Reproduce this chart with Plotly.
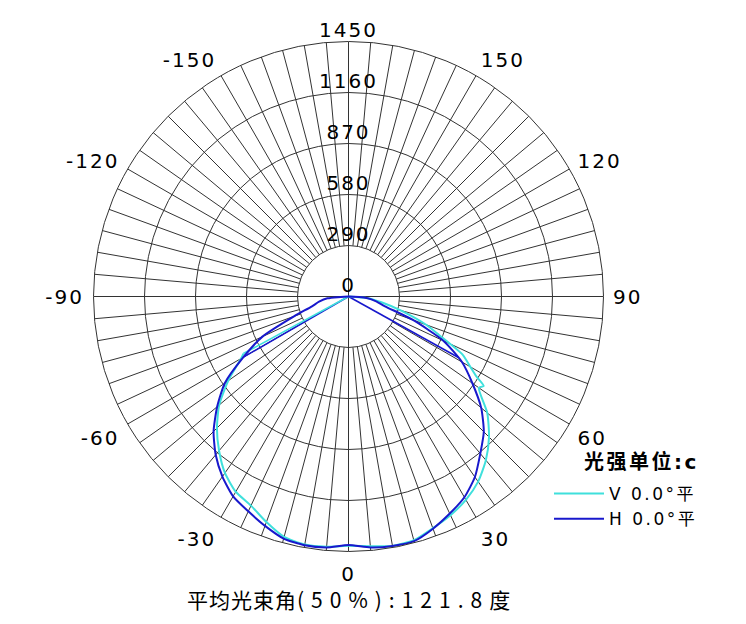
import plotly.graph_objects as go

# ---- data ----
# H plane (blue), smooth curve
H_theta = [-90, -85, -80, -75, -70, -65, -60, -55, -50, -45, -40, -35, -30, -25, -20, -15, -10, -5,
           0, 5, 10, 15, 20, 25, 30, 35, 40, 45, 50, 55, 60, 65, 70, 75, 80, 85, 90]
H_r = [0, 120, 170, 215, 330, 540, 690, 858, 975, 1085, 1175, 1250, 1312, 1348, 1388, 1425, 1436, 1432,
       1413, 1432, 1440, 1440, 1405, 1362, 1318, 1253, 1166, 1088, 985, 860, 745, 595, 390, 215, 160, 110, 0]
# straight rays of the H curve from the centre
H_ray_theta = [-60, 61]
H_ray_r = [690, 715]

# V plane (cyan)
V_theta = [-61.5, -60, -55, -50, -45, -40, -35, -30, -25, -20, -15, -10, -5,
           0, 5, 10, 15, 20, 25, 30, 35, 40, 45, 50, 55, 56.5, 58, 60, 63, 67, 70, 75, 80, 85, 90]
V_r = [680, 705, 835, 960, 1058, 1145, 1225, 1282, 1312, 1365, 1415, 1432, 1428,
       1418, 1425, 1440, 1435, 1402, 1372, 1335, 1285, 1215, 1130, 1030, 905, 922, 858, 800, 728, 559, 470, 310, 190, 110, 0]
V_ray_theta = [-61.5]
V_ray_r = [680]

radial_ticks = [0, 290, 580, 870, 1160, 1450]
radial_labels = ["0", "290", "580", "870", "1160", "1450"]

ang_tickvals = [0, 30, 60, 90, 120, 150, 180, 210, 240, 270, 300, 330]
ang_ticktext = ["0", "30", "60", "90", "120", "150", "", "-150", "-120", "-90", "-60", "-30"]

spoke_step = 5
R_MAX = 1450
R_INNER = 290

names = ["V 0.0°平", "H 0.0°平"]
legend_title = "光强单位:c"
footer = ["平均光束角", "(50%):121.8", "度"]

CYAN = "#3fe0dc"
BLUE = "#1818cc"
GRID = "#333333"
FONT = "DejaVu Sans, Noto Sans CJK SC"
LS = "letter-spacing:2px"

def sp(t, style=LS):
    return f'<span style="{style}">{t}</span>' if t else ""

# grid spokes (from inner circle outwards) and full diameters
sp_t, sp_r = [], []
for a in range(0, 360, spoke_step):
    sp_t += [a, a, None]
    sp_r += [R_INNER, R_MAX, None]
dia_t, dia_r = [], []
for a in [0, 90, 180, 270]:
    dia_t += [a, a, None]
    dia_r += [0, R_MAX, None]

fig = go.Figure()
fig.add_trace(go.Scatterpolar(theta=sp_t, r=sp_r, mode="lines",
                              line=dict(color=GRID, width=1), showlegend=False, hoverinfo="skip"))
fig.add_trace(go.Scatterpolar(theta=dia_t, r=dia_r, mode="lines",
                              line=dict(color=GRID, width=1), showlegend=False, hoverinfo="skip"))

# rays
for th, rr, col in [(H_ray_theta, H_ray_r, BLUE), (V_ray_theta, V_ray_r, CYAN)]:
    t, r = [], []
    for a, v in zip(th, rr):
        t += [a, a, None]
        r += [0, v, None]
    fig.add_trace(go.Scatterpolar(theta=t, r=r, mode="lines",
                                  line=dict(color=col, width=1.6), showlegend=False, hoverinfo="skip"))

fig.add_trace(go.Scatterpolar(theta=V_theta, r=V_r, mode="lines", name=sp(names[0], "letter-spacing:2.5px"),
                              line=dict(color=CYAN, width=2, shape="spline", smoothing=0.6)))
fig.add_trace(go.Scatterpolar(theta=H_theta, r=H_r, mode="lines", name=sp(names[1], "letter-spacing:2.5px"),
                              line=dict(color=BLUE, width=2, shape="spline", smoothing=0.6)))

# radial labels along the 180 direction
fig.add_trace(go.Scatterpolar(theta=[180] * len(radial_ticks), r=radial_ticks, mode="text",
                              text=[sp(t) for t in radial_labels], textposition="top center",
                              textfont=dict(size=20, color="#000", family=FONT),
                              showlegend=False, hoverinfo="skip", cliponaxis=False))

# page body adds an 8 px offset; positions below are screen pixels
OFF = 8
cx, cy, R = 348.5 - OFF, 296.5 - OFF, 255
W, Hh = 746, 624

def px(x):
    return (x - OFF) / W

def py(y):
    return 1 - (y - OFF) / Hh

fig.update_layout(
    width=W, height=Hh,
    margin=dict(l=0, r=0, t=0, b=0),
    paper_bgcolor="white", plot_bgcolor="white",
    font=dict(family=FONT, color="#000"),
    polar=dict(
        domain=dict(x=[(cx - R) / W, (cx + R) / W], y=[(Hh - cy - R) / Hh, (Hh - cy + R) / Hh]),
        bgcolor="white",
        angularaxis=dict(rotation=-90, direction="counterclockwise", tickmode="array",
                         tickvals=ang_tickvals, ticktext=[sp(t) for t in ang_ticktext],
                         showgrid=False, showline=True, linecolor=GRID, linewidth=1,
                         ticks="outside", ticklen=5, tickcolor="rgba(0,0,0,0)",
                         tickfont=dict(size=20, color="#000", family=FONT)),
        radialaxis=dict(range=[0, R_MAX], tickmode="array", tickvals=radial_ticks[1:],
                        showticklabels=False, ticks="", showline=False,
                        gridcolor=GRID, gridwidth=1),
    ),
    legend=dict(x=px(549), y=py(476), xanchor="left", yanchor="top",
                font=dict(size=17, color="#000", family=FONT), bgcolor="rgba(0,0,0,0)",
                itemwidth=50, tracegroupgap=0),
    annotations=[
        dict(x=px(582), y=py(462), xref="paper", yref="paper", xanchor="left", yanchor="middle",
             text="<b>" + sp(legend_title, "letter-spacing:2.5px") + "</b>", showarrow=False,
             font=dict(size=20, color="#000", family=FONT)),
        dict(x=px(348.5), y=py(599), xref="paper", yref="paper", xanchor="center", yanchor="middle",
             text=sp(footer[0], "letter-spacing:1px") + sp(footer[1], "letter-spacing:7px") + footer[2],
             showarrow=False, borderpad=0,
             font=dict(size=21, color="#000", family="Noto Sans CJK SC, DejaVu Sans")),
    ],
)

fig.write_html("out.html")
